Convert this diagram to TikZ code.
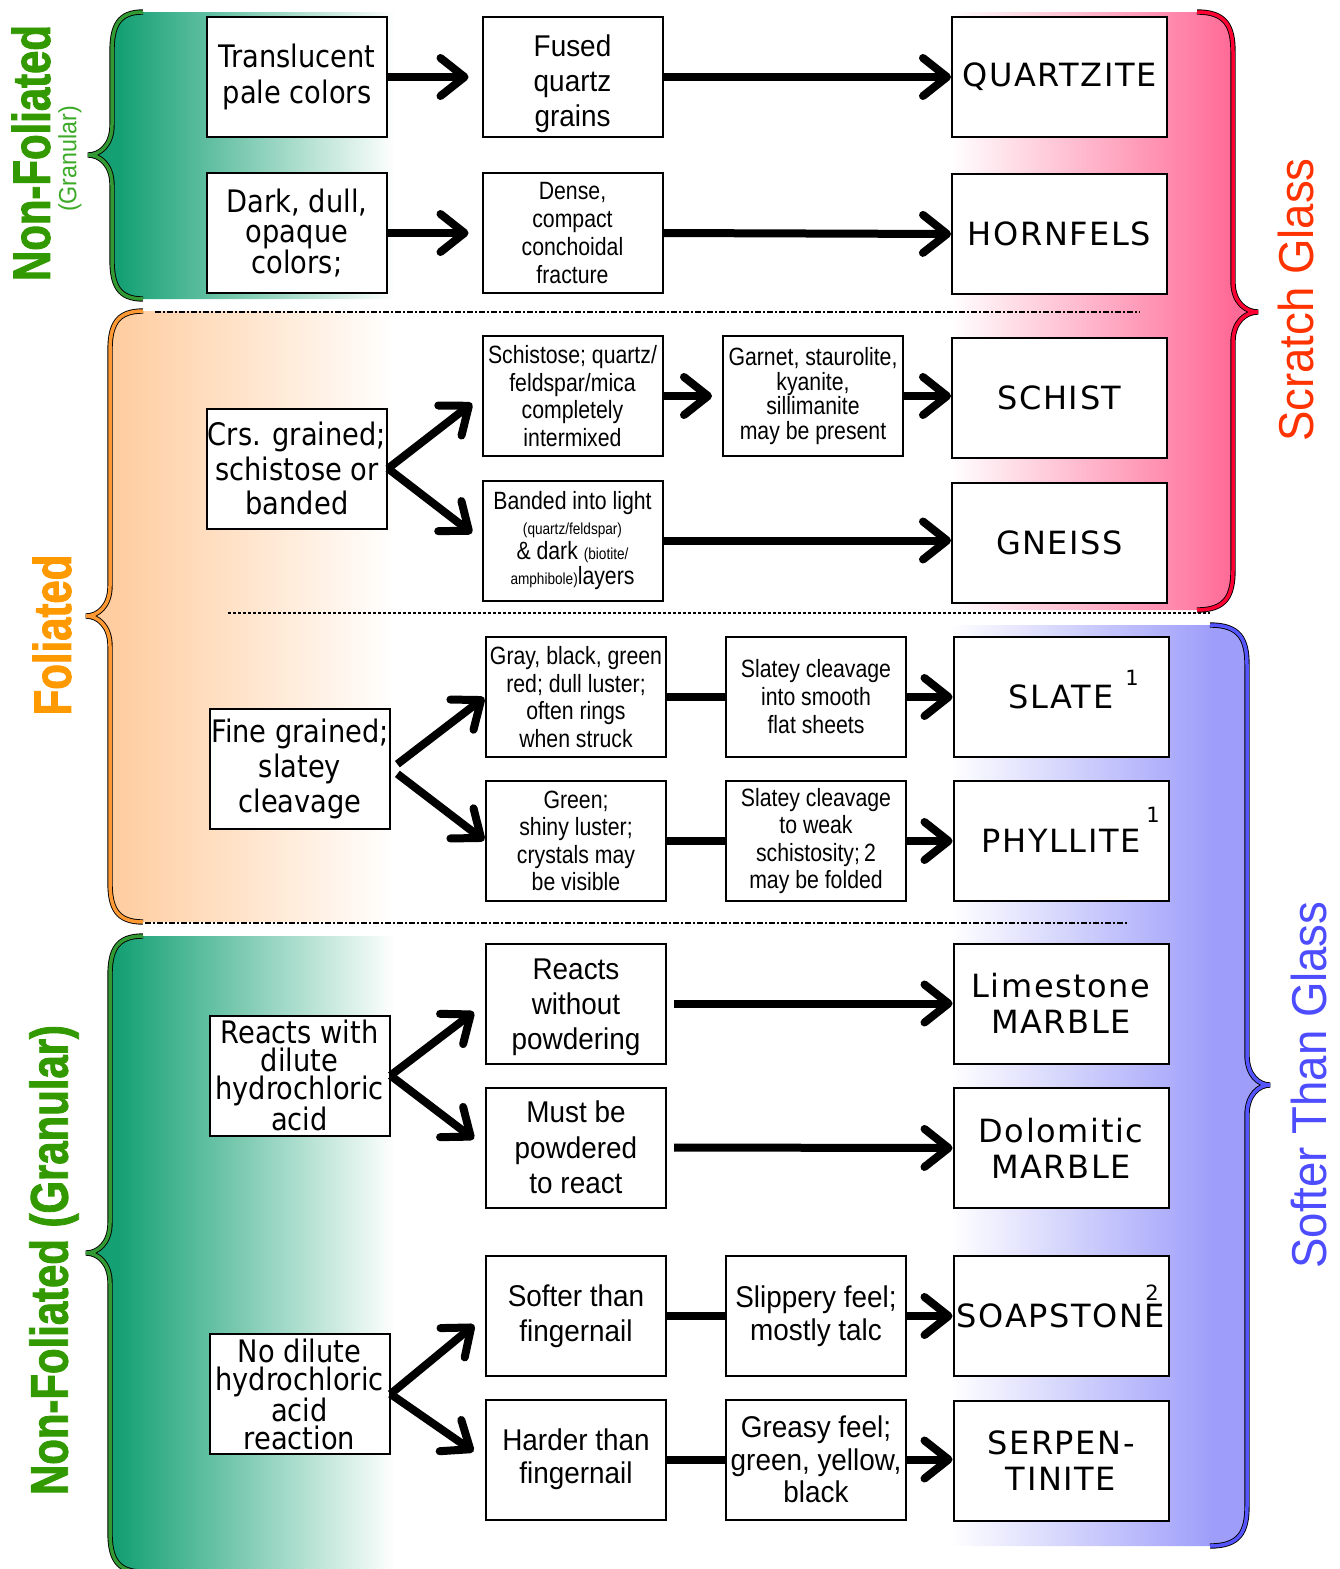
\documentclass[tikz,border=0pt]{standalone}
\usepackage{fontspec}
\setmainfont{DejaVu Sans}
\newfontfamily\tahoma[FakeStretch=0.88]{DejaVu Sans}
\newfontfamily\narA[FakeStretch=0.85]{Liberation Sans}
\newfontfamily\narB[FakeStretch=0.93]{Liberation Sans}
\newfontfamily\rockfont[LetterSpace=5]{DejaVu Sans}
\newfontfamily\impactf[FakeStretch=0.79,FakeBold=1.6]{Liberation Sans Bold}
\usetikzlibrary{arrows.meta}
\definecolor{grnBg}{RGB}{20,160,115}
\definecolor{grnBr}{RGB}{51,153,51}
\definecolor{grnTx}{RGB}{51,153,0}
\definecolor{grnTx2}{RGB}{60,170,40}
\definecolor{orBg}{RGB}{255,205,160}
\definecolor{orBr}{RGB}{255,153,51}
\definecolor{orTx}{RGB}{255,153,0}
\definecolor{pkBg}{RGB}{255,105,150}
\definecolor{pkBr}{RGB}{255,0,51}
\definecolor{blBg}{RGB}{158,158,250}
\definecolor{blBr}{RGB}{85,85,255}
\definecolor{scTx}{RGB}{255,51,0}
\definecolor{sfTx}{RGB}{77,77,255}
\pgfdeclarehorizontalshading{grnsh}{100bp}{color(0bp)=(grnBg); color(30bp)=(grnBg); color(75bp)=(white); color(100bp)=(white)}
\pgfdeclarehorizontalshading{orsh}{100bp}{color(0bp)=(orBg); color(30bp)=(orBg); color(75bp)=(white); color(100bp)=(white)}
\pgfdeclarehorizontalshading{pksh}{100bp}{color(0bp)=(white); color(25bp)=(white); color(71bp)=(pkBg); color(100bp)=(pkBg)}
\pgfdeclarehorizontalshading{blsh}{100bp}{color(0bp)=(white); color(25bp)=(white); color(66bp)=(blBg); color(100bp)=(blBg)}
\begin{document}
\begin{tikzpicture}[x=1pt,y=-1pt,
  brace/.style n args={6}{insert path={(#4,#1) .. controls ({#5+(#4-#5)*0.2},#1) and (#5,{#1+14}) .. (#5,{#1+40}) -- (#5,{#3-30}) .. controls (#5,{#3-10}) and ({#5+(#6-#5)*0.5},#3) .. (#6,#3) .. controls ({#5+(#6-#5)*0.5},#3) and (#5,{#3+10}) .. (#5,{#3+30}) -- (#5,{#2-40}) .. controls (#5,{#2-14}) and ({#5+(#4-#5)*0.2},#2) .. (#4,#2)}},
  bracedraw/.style={draw=black, line width=0.9pt, double=#1, double distance=3.5pt, miter limit=2.5},
  box/.style={draw=black, line width=2pt, fill=white, minimum width=180pt, minimum height=120pt, inner sep=0pt, align=center},
  rbox/.style={box, minimum width=215pt},
  cA/.style={font={\tahoma\fontsize{31}{#1}\selectfont}},
  nA/.style={font={\narA\fontsize{25}{#1}\selectfont}},
  nB/.style={font={\narB\fontsize{30}{#1}\selectfont}},
  rk/.style={font={\rockfont\fontsize{32}{#1}\selectfont}},
  supr/.style={font={\rockfont\fontsize{21}{21}\selectfont}, inner sep=0pt},
  arr/.style={line width=8pt, -{Straight Barb[length=24pt,width=38pt,round]}},
  link/.style={line width=8pt},
  dashdot/.style={line width=2.2pt, dash pattern=on 6pt off 2pt on 2pt off 2pt},
  dots/.style={line width=2.2pt, dash pattern=on 3pt off 2pt},
  vlab/.style={rotate=90, inner sep=0pt},
  heavy/.style={font={\impactf\fontsize{53}{53}\selectfont}}
]
\useasboundingbox (0,0) rectangle (1339,1569);
\fill[white] (0,0) rectangle (1339,1569);

% background regions
\shade[shading=grnsh] [brace={12}{299}{155}{143}{112}{88}] -- (395,299) -- (395,12) -- cycle;
\shade[shading=orsh] [brace={311}{922}{616}{143}{110}{86}] -- (395,922) -- (395,311) -- cycle;
\shade[shading=grnsh] [brace={936}{1572}{1253}{143}{110}{86}] -- (395,1572) -- (395,936) -- cycle;
\shade[shading=pksh] [brace={12}{610}{312}{1197}{1233}{1258}] -- (950,610) -- (950,12) -- cycle;
\shade[shading=blsh] [brace={625}{1546}{1085}{1210}{1247}{1270}] -- (950,1546) -- (950,625) -- cycle;

% separators
\draw[dashdot] (155,312) -- (1140,312);
\draw[dots] (228,613) -- (1210,613);
\draw[dashdot] (145,923) -- (1128,923);

% braces
\draw[bracedraw=grnBr] [brace={12}{299}{155}{143}{112}{88}];
\draw[bracedraw=orBr] [brace={311}{922}{616}{143}{110}{86}];
\draw[bracedraw=grnBr] [brace={936}{1572}{1253}{143}{110}{86}];
\draw[bracedraw=pkBr] [brace={12}{610}{312}{1197}{1233}{1258}];
\draw[bracedraw=blBr] [brace={625}{1546}{1085}{1210}{1247}{1270}];

% side labels
\node[vlab, text=grnTx, heavy] (lab1) at (31,153) {Non-Foliated};
\node[vlab, text=grnTx2, font={\narB\fontsize{25}{25}\selectfont}] (lab1b) at (70,159) {(Granular)};
\node[vlab, text=orTx, heavy] (lab2) at (52,635) {Foliated};
\node[vlab, text=grnTx, heavy] (lab3) at (54,1260) {Non-Foliated (Granular)};
\node[vlab, text=scTx, font={\narB\fontsize{49}{49}\selectfont}] (lab4) at (1296,300) {Scratch Glass};
\node[vlab, text=sfTx, font={\narB\fontsize{49}{49}\selectfont}] (lab5) at (1309,1085) {Softer Than Glass};

% column 1
\node[box, cA=36] (n1) at (297,77) {Translucent\\pale colors};
\node[box, cA=30] (n2) at (297,233) {Dark, dull,\\opaque\\colors;};
\node[box, cA=34.5] (n3) at (297,468.5) {Crs. grained;\\schistose or\\banded};
\node[box, cA=35] (n4) at (300,769) {Fine grained;\\slatey\\cleavage};
\node[box, cA=28] (n5) at (299.5,1075.5) {Reacts with\\dilute\\hydrochloric\\acid};
\node[box, cA=28] (n6) at (299.5,1394) {No dilute\\hydrochloric\\acid\\reaction};

% column 2
\node[box, nB=35] (f1) at (572.5,77) {\rule{0pt}{35pt}Fused\\quartz\\grains};
\node[box, nA=27.7] (f2) at (572.5,233) {Dense,\\compact\\conchoidal\\fracture};
\node[box, nA=27.7] (f3) at (572.5,396) {Schistose; quartz/\\feldspar/mica\\completely\\intermixed};
\node[box, nA=25] (f4) at (572.5,540.5) {Banded into light\\{\fontsize{16}{16}\selectfont (quartz/feldspar)}\\\& dark {\fontsize{16}{16}\selectfont (biotite/}\\{\fontsize{16}{16}\selectfont amphibole)}layers};
\node[box, nA=27.7] (f5) at (576,697) {Gray, black, green\\red; dull luster;\\often rings\\when struck};
\node[box, nA=27.3] (f6) at (576,841) {Green;\\shiny luster;\\crystals may\\be visible};
\node[box, nB=35] (f7) at (576,1003.5) {\rule{0pt}{29pt}Reacts\\without\\powdering};
\node[box, nB=35.5] (f8) at (576,1147.5) {Must be\\powdered\\to react};
\node[box, nB=35] (f9) at (576,1316) {Softer than\\fingernail};
\node[box, nB=33] (f10) at (576,1459.5) {Harder than\\fingernail};

% column 3
\node[box, nA=24.7] (g3) at (813,396) {Garnet, staurolite,\\kyanite,\\sillimanite\\may be present};
\node[box, nA=28] (g5) at (816,697) {Slatey cleavage\\into smooth\\flat sheets};
\node[box, nA=27.3] (g6) at (816,841) {Slatey cleavage\\to weak\\schistosity;\,2\\may be folded};
\node[box, nB=33] (g9) at (816,1316) {Slippery feel;\\mostly talc};
\node[box, nB=32.5] (g10) at (816,1459.5) {Greasy feel;\\green, yellow,\\black};

% rock names
\node[rbox, rk=36] (r1) at (1059.5,77) {QUARTZITE};
\node[rbox, rk=36] (r2) at (1059.5,234) {HORNFELS};
\node[rbox, rk=36] (r3) at (1059.5,398) {SCHIST};
\node[rbox, rk=36] (r4) at (1059.5,543) {GNEISS};
\node[rbox, rk=36] (r5) at (1061,697) {SLATE};
\node[rbox, rk=36] (r6) at (1061,841) {PHYLLITE};
\node[rbox, rk=36] (r7) at (1061,1003.5) {Limestone\\MARBLE};
\node[rbox, rk=36] (r8) at (1061,1148) {Dolomitic\\MARBLE};
\node[rbox, rk=36] (r9) at (1061,1316) {SOAPSTONE};
\node[rbox, rk=36] (r10) at (1061,1460.5) {SERPEN-\\TINITE};
\node[supr] (s5) at (1132,678) {1};
\node[supr] (s6) at (1153,815) {1};
\node[supr] (s9) at (1152,1293) {2};

% connectors
\draw[arr, shorten >=13pt] (n1.east) -- (f1.west);
\draw[arr] (f1.east) -- (r1.west);
\draw[arr, shorten >=13pt] (n2.east) -- (f2.west);
\draw[arr] (f2.east) -- (r2.west);

\draw[arr, shorten >=12pt] (n3.east) -- (f3.west);
\draw[arr, shorten >=12pt] (n3.east) -- (f4.west);
\draw[arr, shorten >=10pt] (f3.east) -- (g3.west);
\draw[arr] (g3.east) -- (g3.east -| r3.west);
\draw[arr] (f4.east) -- (f4.east -| r4.west);

\draw[arr, shorten <=8pt, shorten >=1pt] (n4.east) -- (f5.west);
\draw[arr, shorten <=8pt, shorten >=1pt] (n4.east) -- (f6.west);
\draw[link] (f5.east) -- (g5.west);
\draw[arr] (g5.east) -- (r5.west);
\draw[link] (f6.east) -- (g6.west);
\draw[arr] (g6.east) -- (r6.west);

\draw[arr, shorten >=14pt] (n5.east) -- (f7.west);
\draw[arr, shorten >=14pt] (n5.east) -- (f8.west);
\draw[arr, shorten <=7pt] (f7.east) -- (r7.west);
\draw[arr, shorten <=7pt] (f8.east) -- (r8.west);

\draw[arr, shorten >=14pt] (n6.east) -- (f9.west);
\draw[arr, shorten >=14pt] (n6.east) -- (f10.west);
\draw[link] (f9.east) -- (g9.west);
\draw[arr] (g9.east) -- (r9.west);
\draw[link] (f10.east) -- (g10.west);
\draw[arr] (g10.east) -- (g10.east -| r10.west);
\end{tikzpicture}
\end{document}
